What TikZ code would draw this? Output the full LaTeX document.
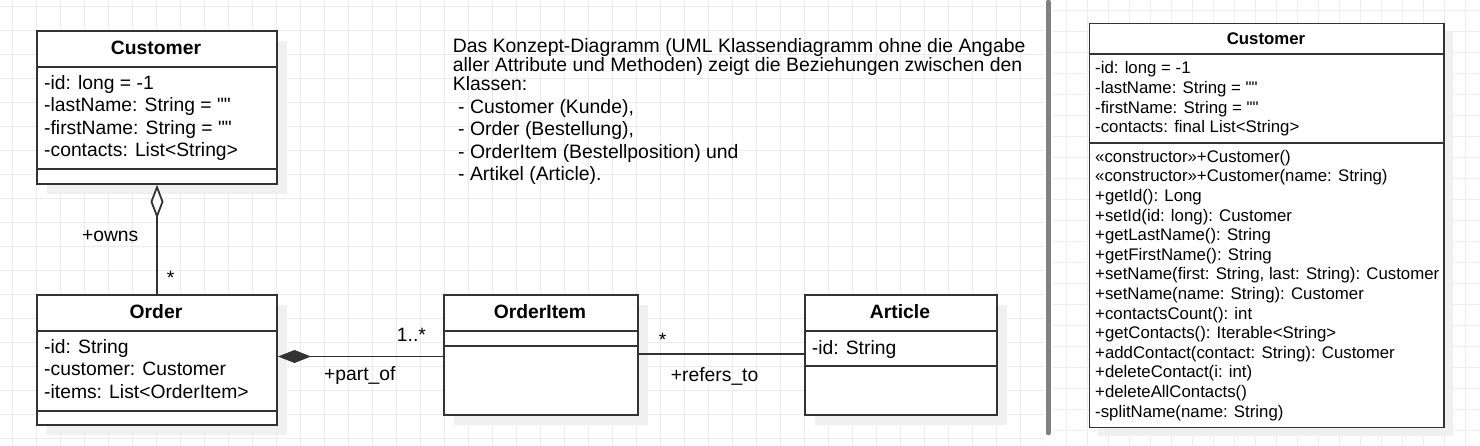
\documentclass[tikz,border=0pt]{standalone}
\usepackage{fontspec}
\setmainfont{Liberation Sans}[Ligatures=TeXOff]
\usetikzlibrary{arrows.meta,shadows,calc}
\definecolor{gridc}{RGB}{236,236,236}
\definecolor{gridr}{RGB}{238,238,238}
\definecolor{boxc}{RGB}{51,51,51}
\definecolor{shadowc}{RGB}{240,240,240}
\definecolor{sepc}{RGB}{128,128,128}
\newcommand\fntL{\fontsize{19.3pt}{22.5pt}\selectfont}
\newcommand\fntT{\fontsize{19.4pt}{22.5pt}\selectfont}
\newcommand\fntR{\fontsize{16.8pt}{19.6pt}\selectfont}
\tikzset{
  cls/.style={draw=boxc, line width=2pt, fill=white, inner sep=0pt, anchor=north west,
    drop shadow={shadow xshift=10pt, shadow yshift=-10pt, fill=shadowc, opacity=1}},
  clsR/.style={draw=boxc, line width=1.7pt, fill=white, inner sep=0pt, anchor=north west,
    drop shadow={shadow xshift=8.5pt, shadow yshift=-8.5pt, fill=shadowc, opacity=1}},
  sepl/.style={draw=boxc, line width=2pt},
  sepR/.style={draw=boxc, line width=1.7pt},
  txtL/.style={font=\fntL, inner sep=0pt, anchor=base west},
  hdrL/.style={font=\fntL\bfseries, inner sep=0pt, anchor=base},
  txtR/.style={font=\fntR, inner sep=0pt, anchor=base west},
  hdrR/.style={font=\fntR\bfseries, inner sep=0pt, anchor=base},
  txtT/.style={font=\fntT, inner sep=0pt, anchor=base west},
  lblL/.style={font=\fntL, inner sep=0pt, anchor=base west},
  conn/.style={draw=boxc, line width=1.8pt},
  gridl/.style={draw=gridc, line width=1pt},
  gridrl/.style={draw=gridr, line width=1pt},
}
\begin{document}
\begin{tikzpicture}[x=1pt,y=-1pt]
\useasboundingbox (0,0) rectangle (1480,446);
\fill[white] (0,0) rectangle (1480,446);
% left grid
\begin{scope}
\clip (0,0) rectangle (1044,446);
\foreach \k in {0,...,43} \draw[gridl] ({12.7+24*\k},0) -- ++(0,446);
\foreach \k in {0,...,18} \draw[gridl] (0,{6.3+24*\k}) -- ++(1044,0);
\end{scope}
% right grid
\begin{scope}
\clip (1052,0) rectangle (1480,446);
\foreach \k in {50,...,69} \draw[gridrl] ({16.3+21*\k},0) -- ++(0,446);
\foreach \k in {0,...,20} \draw[gridrl] (1052,{10.3+21*\k}) -- ++(428,0);
\end{scope}
% separator
\draw[line width=4.5pt, sepc, line cap=round] (1048.3,2) -- (1048.3,433);

% Customer (left)
\node[cls, minimum width=240pt, minimum height=152.7pt] (cust) at (36,30) {};
\draw[sepl] ($(cust.north west)+(0,36.7)$) -- ($(cust.north east)+(0,36.7)$);
\draw[sepl] ($(cust.north west)+(0,139.3)$) -- ($(cust.north east)+(0,139.3)$);
\node[hdrL] (custH) at (156,55) {Customer};
\foreach \t [count=\i] in {{-id: long = -1},{-lastName: String = ""},{-firstName: String = ""},{-contacts: List<String>}}
  \node[txtL] (custA\i) at (44,{89.3+22.5*(\i-1)}) {\t};

% Order
\node[cls, minimum width=240pt, minimum height=130pt] (order) at (36,294) {};
\draw[sepl] ($(order.north west)+(0,37)$) -- ($(order.north east)+(0,37)$);
\draw[sepl] ($(order.north west)+(0,116.7)$) -- ($(order.north east)+(0,116.7)$);
\node[hdrL] (orderH) at (156,318.3) {Order};
\foreach \t [count=\i] in {{-id: String},{-customer: Customer},{-items: List<OrderItem>}}
  \node[txtL] (orderA\i) at (44,{353.3+22.5*(\i-1)}) {\t};

% OrderItem
\node[cls, minimum width=193.4pt, minimum height=119.7pt] (oitem) at (443.3,294) {};
\draw[sepl] ($(oitem.north west)+(0,37)$) -- ($(oitem.north east)+(0,37)$);
\draw[sepl] ($(oitem.north west)+(0,52)$) -- ($(oitem.north east)+(0,52)$);
\node[hdrL] (oitemH) at (540,318.3) {OrderItem};

% Article
\node[cls, minimum width=192pt, minimum height=119.7pt] (article) at (804,294) {};
\draw[sepl] ($(article.north west)+(0,37)$) -- ($(article.north east)+(0,37)$);
\draw[sepl] ($(article.north west)+(0,72)$) -- ($(article.north east)+(0,72)$);
\node[hdrL] (articleH) at (900,318.3) {Article};
\node[txtL] (articleA1) at (811.7,354) {-id: String};

% Customer (right, detailed)
\node[clsR, minimum width=354.6pt, minimum height=404pt] (rc) at (1088.7,22.7) {};
\draw[sepR] ($(rc.north west)+(0,31.6)$) -- ($(rc.north east)+(0,31.6)$);
\draw[sepR] ($(rc.north west)+(0,120.6)$) -- ($(rc.north east)+(0,120.6)$);
\node[hdrR] (rcH) at (1266,44.3) {Customer};
\foreach \t [count=\i] in {{-id: long = -1},{-lastName: String = ""},{-firstName: String = ""},{-contacts: final List<String>}}
  \node[txtR] (rcA\i) at (1095,{74+19.6*(\i-1)}) {\t};
\foreach \t [count=\i] in {{«constructor»+Customer()},{«constructor»+Customer(name: String)},{+getId(): Long},{+setId(id: long): Customer},{+getLastName(): String},{+getFirstName(): String},{+setName(first: String, last: String): Customer},{+setName(name: String): Customer},{+contactsCount(): int},{+getContacts(): Iterable<String>},{+addContact(contact: String): Customer},{+deleteContact(i: int)},{+deleteAllContacts()},{-splitName(name: String)}}
  \node[txtR] (rcM\i) at (1095,{162.3+19.6*(\i-1)}) {\t};

% description text
\node[txtT] (d1) at (452.7,53) {Das Konzept-Diagramm (UML Klassendiagramm ohne die Angabe};
\node[txtT] (d2) at (452.7,72) {aller Attribute und Methoden) zeigt die Beziehungen zwischen den};
\node[txtT] (d3) at (452.7,91) {Klassen:};
\node[txtT] (d4) at (458,113.5) {- Customer (Kunde),};
\node[txtT] (d5) at (458,136) {- Order (Bestellung),};
\node[txtT] (d6) at (458,158.5) {- OrderItem (Bestellposition) und};
\node[txtT] (d7) at (458,181) {- Artikel (Article).};

% connectors
\draw[conn, {Diamond[open, fill=white, length=34pt, width=13pt]}-] (cust.south) -- (order.north);
\path (order.north east) ++(0,62.5) coordinate (compA);
\draw[conn, {Diamond[fill=boxc, length=33pt, width=13pt]}-] (compA) -- (compA -| oitem.west);
\path (oitem.north east) ++(0,60) coordinate (refA);
\draw[conn] (refA) -- (refA -| article.west);

% labels
\node[lblL, anchor=base] (owns) at (110.2,241.7) {+owns};
\node[lblL, anchor=base] (m1) at (170.7,285) {*};
\node[lblL] (m2) at (396.7,341) {1..*};
\node[lblL] (partof) at (324,380.7) {+part\_of};
\node[lblL, anchor=base] (m3) at (662.7,346.8) {*};
\node[lblL] (refto) at (670.7,381.7) {+refers\_to};
\end{tikzpicture}
\end{document}
